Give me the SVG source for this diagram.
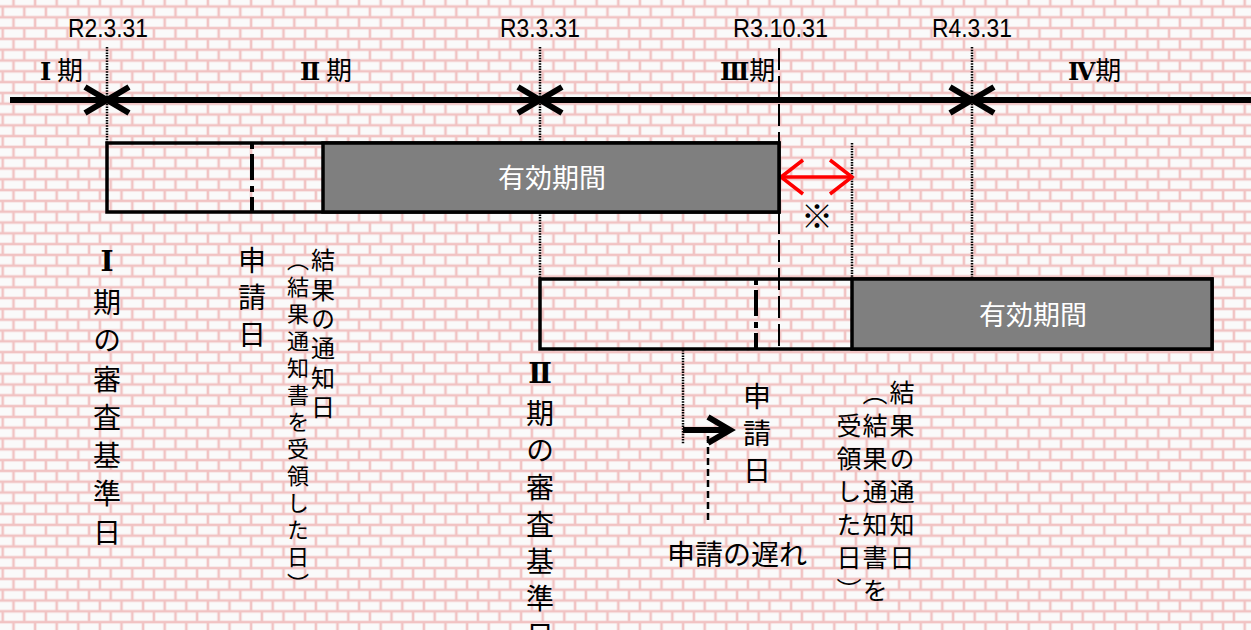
<svg xmlns="http://www.w3.org/2000/svg" width="1251" height="630" viewBox="0 0 1251 630">
<defs>
<pattern id="brick" patternUnits="userSpaceOnUse" x="2.7" y="6.5" width="21.6" height="21.6">
<rect width="21.6" height="21.6" fill="#fafafa"/>
<g stroke="#f1c3c3" stroke-width="2.6" fill="none">
<line x1="0" y1="0" x2="21.6" y2="0"/>
<line x1="0" y1="10.8" x2="21.6" y2="10.8"/>
<line x1="0" y1="21.6" x2="21.6" y2="21.6"/>
<line x1="0" y1="0" x2="0" y2="10.8"/>
<line x1="21.6" y1="0" x2="21.6" y2="10.8"/>
<line x1="10.8" y1="10.8" x2="10.8" y2="21.6"/>
</g>
</pattern>
<style>
.lat{font-family:"Liberation Sans",Arial,sans-serif;font-size:25px;fill:#000}
.jp{font-family:"Noto Sans CJK JP","Noto Sans",sans-serif;fill:#000}
.rn{font-family:"DejaVu Serif","Noto Sans CJK JP",serif;font-weight:bold}
.v{writing-mode:vertical-rl}
.dot{stroke:#000;stroke-width:2.5;stroke-dasharray:1.5 1.2;fill:none}
.dash{stroke:#000;stroke-width:2;stroke-dasharray:22 6;fill:none}
.dd{stroke:#000;stroke-width:4;stroke-dasharray:6 5 26 6;fill:none}
.box{fill:none;stroke:#000;stroke-width:3.5}
.gray{fill:#7f7f7f;stroke:#000;stroke-width:3.5}
.xm{stroke:#000;stroke-width:6;fill:none}
.eff{font-family:"Noto Sans CJK JP","Noto Sans",sans-serif;font-size:27px;fill:#fff;text-anchor:middle}
</style>
</defs>
<rect width="1251" height="630" fill="url(#brick)"/>

<g id="connectors">
<line x1="10" y1="100" x2="1251" y2="100" stroke="#000" stroke-width="6"/>
<line class="dot" x1="107" y1="47" x2="107" y2="143"/>
<line class="dot" x1="540" y1="47" x2="540" y2="279"/>
<line class="dot" x1="972" y1="47" x2="972" y2="279"/>
<line class="dot" x1="852" y1="143" x2="852" y2="279"/>
<line class="dot" x1="683" y1="350" x2="683" y2="444"/>
<line class="dash" x1="779" y1="48" x2="779" y2="143"/>
<line class="dash" x1="779" y1="212" x2="779" y2="349"/>
<line stroke="#000" stroke-width="2.5" stroke-dasharray="7 4" x1="708" y1="436" x2="708" y2="522"/>
<g id="arrow-delay" stroke="#000" fill="none">
<line x1="683" y1="430" x2="728" y2="430" stroke-width="6"/>
<polyline points="708,417 730,430 708,443" stroke-width="6"/>
</g>
<g id="red-arrow" stroke="#ff0000" stroke-width="3.5" fill="none">
<line x1="781" y1="177" x2="852" y2="177"/>
<polyline points="803,160 781,177 803,194"/>
<polyline points="830,160 852,177 830,194"/>
</g>
</g>

<g id="marks">
<g id="x1"><line class="xm" x1="85" y1="87" x2="129" y2="113"/><line class="xm" x1="85" y1="113" x2="129" y2="87"/></g>
<g id="x2"><line class="xm" x1="518" y1="87" x2="562" y2="113"/><line class="xm" x1="518" y1="113" x2="562" y2="87"/></g>
<g id="x3"><line class="xm" x1="950" y1="87" x2="994" y2="113"/><line class="xm" x1="950" y1="113" x2="994" y2="87"/></g>
</g>

<g id="dates">
<text class="lat" x="68" y="37" textLength="80" lengthAdjust="spacingAndGlyphs">R2.3.31</text>
<text class="lat" x="500" y="37" textLength="80" lengthAdjust="spacingAndGlyphs">R3.3.31</text>
<text class="lat" x="733" y="37" textLength="95" lengthAdjust="spacingAndGlyphs">R3.10.31</text>
<text class="lat" x="932" y="37" textLength="80" lengthAdjust="spacingAndGlyphs">R4.3.31</text>
</g>

<g id="periods">
<text class="jp" x="40" y="80" font-size="26"><tspan class="rn" font-size="24">Ⅰ</tspan> 期</text>
<text class="jp" x="300" y="80" font-size="26"><tspan class="rn" font-size="24">Ⅱ</tspan> 期</text>
<text class="jp" x="720" y="80" font-size="26"><tspan class="rn" font-size="24">Ⅲ</tspan>期</text>
<text class="jp" x="1068" y="80" font-size="26"><tspan class="rn" font-size="24">Ⅳ</tspan>期</text>
</g>

<g id="period1-box">
<rect class="box" x="107" y="143" width="672" height="69"/>
<rect class="gray" x="323" y="143" width="456" height="69"/>
<line class="dd" x1="252" y1="143" x2="252" y2="212"/>
<text class="eff" x="552" y="188">有効期間</text>
</g>

<g id="period2-box">
<rect class="box" x="540" y="279" width="672" height="70"/>
<rect class="gray" x="852" y="279" width="360" height="70"/>
<line class="dd" x1="756" y1="279" x2="756" y2="349"/>
<text class="eff" x="1033" y="325">有効期間</text>
</g>

<g id="note">
<text class="jp" x="817" y="228" font-size="32" font-weight="bold" text-anchor="middle">※</text>
</g>

<g id="labels-1">
<text class="jp v" x="107" y="245" font-size="28" letter-spacing="10.3"><tspan class="rn">Ⅰ</tspan>期の審査基準日</text>
<text class="jp v" x="252" y="246" font-size="28" letter-spacing="9">申請日</text>
<text class="jp v" x="323" y="248" font-size="24" letter-spacing="5.4">結果の通知日</text>
<text class="jp v" x="298" y="249" font-size="22" letter-spacing="5">（結果通知書を受領した日）</text>
</g>

<g id="labels-2">
<text class="jp v" x="540" y="357" font-size="28" letter-spacing="9"><tspan class="rn">Ⅱ</tspan>期の審査基準日</text>
<text class="jp v" x="757" y="382" font-size="28" letter-spacing="9">申請日</text>
<text class="jp" x="667" y="565" font-size="28">申請の遅れ</text>
<text class="jp v" x="902" y="380" font-size="25" letter-spacing="8">結果の通知日</text>
<text class="jp v" x="875" y="380" font-size="25" letter-spacing="8">（結果通知書を</text>
<text class="jp v" x="849" y="413" font-size="25" letter-spacing="8">受領した日）</text>
</g>
</svg>
